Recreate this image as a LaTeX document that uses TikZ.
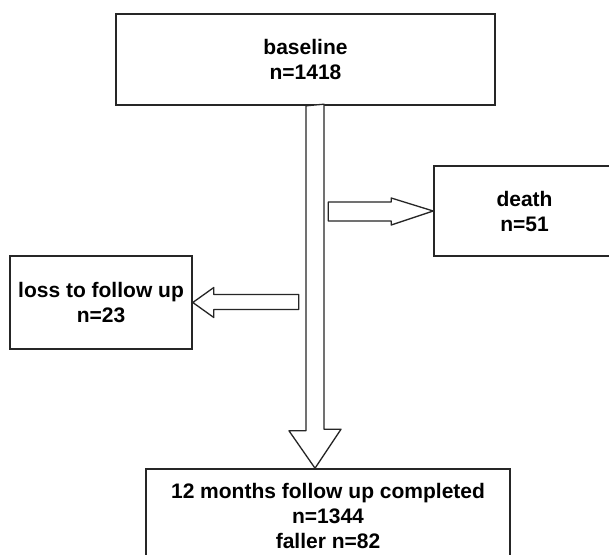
\documentclass[tikz,border=0pt]{standalone}
\usepackage{fontspec}
\setmainfont{Liberation Sans}
\usetikzlibrary{calc}

\begin{document}
\begin{tikzpicture}[line cap=round,line join=round,x=1pt,y=-1pt,
	box/.style={draw=black!85,line width=1.6pt,line join=miter,align=center,inner sep=0pt,
		font=\fontsize{21}{25}\selectfont\bfseries},
	blk/.style={draw=black!85,line width=1.3pt,fill=white}]
	\fill[white] (0,0) rectangle (609,554);
	\useasboundingbox (0,0) rectangle (609,554);
	\node[box,minimum width=379,minimum height=91] (base) at (305.5,59.5) {baseline\\n=1418};
	\node[box,minimum width=181,minimum height=90] (death) at (524.5,211) {death\\n=51};
	\node[box,minimum width=182,minimum height=93] (loss) at (101,302.5) {loss to follow up\\n=23};
	\node[box,minimum width=364,minimum height=93] (done) at (328,515.5) {12 months follow up completed\\n=1344\\faller n=82};

	\coordinate (tipd) at ($(done.north)+(-13,0)$);
	\draw[blk] ($(base.south)+(0.5,0)$) -- ++(0,325) -- ++(-17,0) -- (tipd) -- ++(26,-39) -- ++(-17,0) -- ++(0,-325) -- cycle;
	\draw[blk] (death.west) -- ++(-42,-13) -- ++(0,4) -- ++(-63,0) -- ++(0,19) -- ++(63,0) -- ++(0,4) -- cycle;
	\draw[blk] (loss.east) -- ++(21,-15) -- ++(0,7) -- ++(85,0) -- ++(0,15) -- ++(-85,0) -- ++(0,8) -- cycle;
\end{tikzpicture}
\end{document}
